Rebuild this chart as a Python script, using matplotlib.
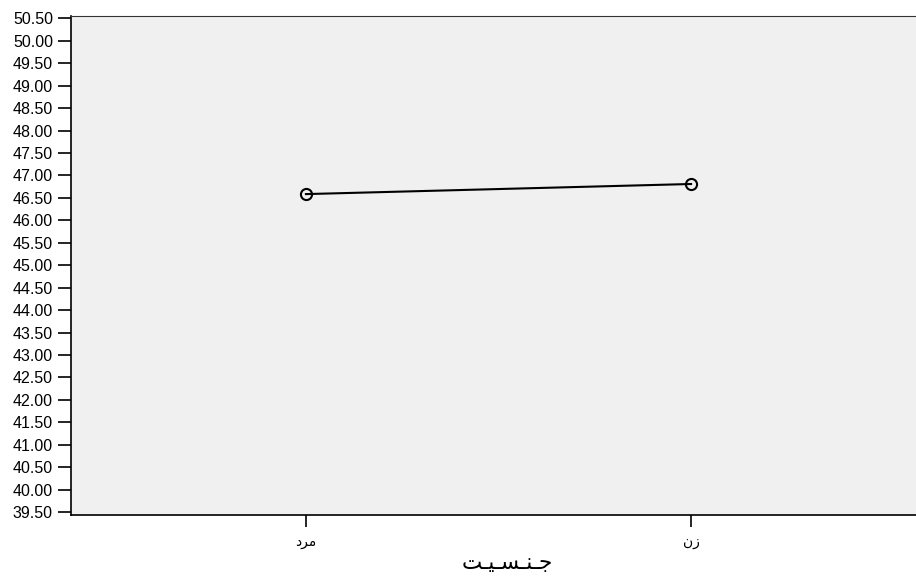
import matplotlib.pyplot as plt

# gender categories (presentation forms, visual order, so the Arabic letters join)
labels = ['\uFEA9\uFEAE\uFEE3', '\uFEE5\uFEAF']   # مرد , زن
means = [46.585, 46.81]
y_ticks = [39.5 + 0.5 * i for i in range(23)]
x_title = '\uFE96\u0640\uFEF4\u0640\uFEB4\u0640\uFEE8\u0640\uFE9F'  # جنسیت

plt.rcParams['font.family'] = ['Liberation Sans', 'DejaVu Sans']

fig = plt.figure(figsize=(9.16, 5.78), dpi=100)
ax = fig.add_axes([0.0775, 0.109, 0.9225, 0.863])
ax.set_facecolor('#f0f0f0')

x = list(range(len(labels)))
ax.plot(x, means, color='black', linewidth=1.5, marker='o', markersize=8,
        markerfacecolor='none', markeredgewidth=1.5, markeredgecolor='black')

ax.set_xlim(-0.61, 1.584)
ax.set_ylim(39.433, 50.55)
ax.set_yticks(y_ticks)
ax.set_yticklabels(['%.2f' % v for v in y_ticks], fontsize=11.5)
ax.set_xticks(x)
ax.set_xticklabels(labels, fontsize=10, family=['DejaVu Sans'])
ax.tick_params(axis='y', length=9.5, width=1.2, pad=3.5)
ax.tick_params(axis='x', length=8.5, width=1.2, pad=6)

ax.set_xlabel(x_title, fontsize=15.5, family=['DejaVu Sans'])
ax.xaxis.set_label_coords(0.516, -0.077)

for side in ['left', 'bottom']:
    ax.spines[side].set_linewidth(1.2)
ax.spines['top'].set_color('#333333')
ax.spines['right'].set_visible(False)

plt.savefig('out.png', dpi=100)
plt.close()
